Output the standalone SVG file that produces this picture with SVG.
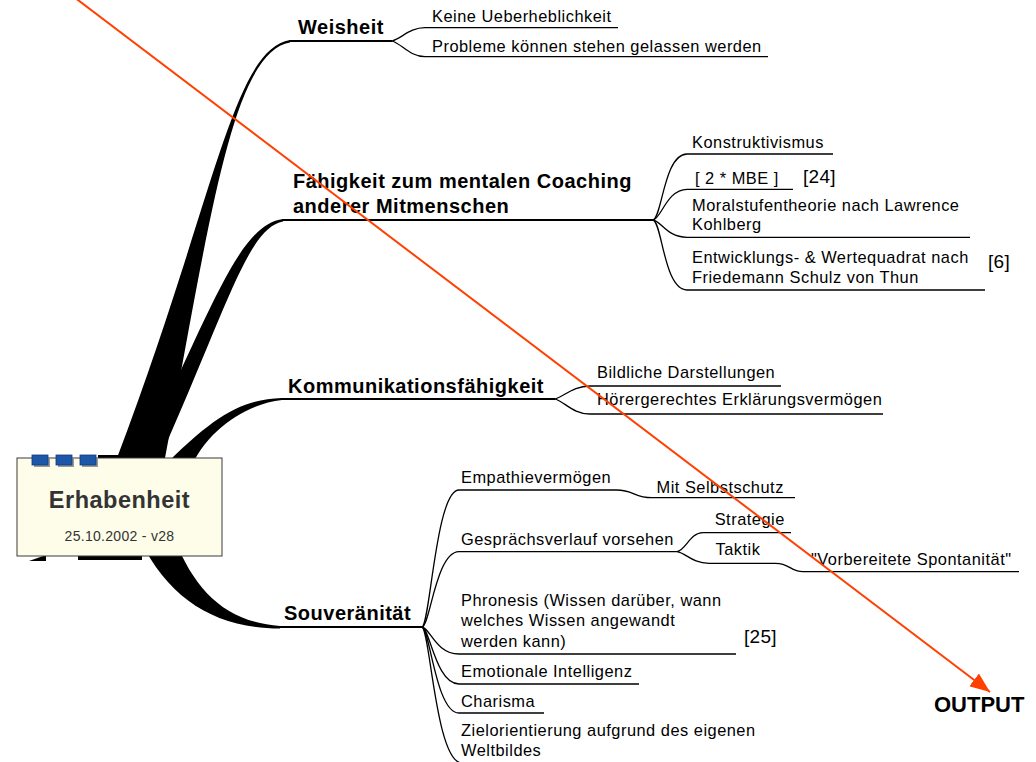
<svg xmlns="http://www.w3.org/2000/svg" width="1036" height="762" viewBox="0 0 1036 762">
<style>
text{font-family:"Liberation Sans",Arial,Helvetica,sans-serif;fill:#000}
.t{font-size:16.4px;letter-spacing:0.5px}
.b{font-size:20px;font-weight:bold;letter-spacing:0.5px}
.r{font-size:19px;letter-spacing:0.3px}
.br{fill:#000;stroke:none}
.m{fill:none;stroke:#000;stroke-width:2}
.s{fill:none;stroke:#000;stroke-width:1.3}
.tab{fill:#1F57A8;stroke:#0D3B80;stroke-width:0.8}
.tsh{fill:#9a9a9a}
</style>
<defs>
<marker id="ah" viewBox="0 0 20 16" refX="20" refY="8" markerWidth="20" markerHeight="16" markerUnits="userSpaceOnUse" orient="auto">
<path d="M0,0 L20,8 L0,16 Z" fill="#FF4000"/>
</marker>
</defs>
<g id="connectors">
<path class="br" d="M117,458 C215,200 232,50 290,40 L290,42.5 C232,52 210,220 165,458 Z"/>
<path class="br" d="M140,458 C215,300 240,225 283,219 L283,221.5 C248,228 228,305 160,458 Z"/>
<path class="br" d="M160,470 C215,415 240,400 282,398 L282,400 C245,404 205,432 190,470 Z"/>
<path class="br" d="M175,540 C195,590 225,622 280,626 L280,628.5 C215,628 170,600 140,540 Z"/>
<rect class="br" x="98" y="455" width="20" height="4"/>
<rect class="br" x="78" y="555" width="64" height="5"/>
<path class="br" d="M29,561 L46,555 L46,561 Z"/>
<path class="m" d="M289,41 H392"/>
<path class="m" d="M282,220 H653"/>
<path class="m" d="M281,399 H555"/>
<path class="m" d="M278,627 H422"/>
<path class="s" d="M392,41 C402,38 410,27.7 425,27.7 H618"/>
<path class="s" d="M392,41 C402,44 410,56.7 425,56.7 H768"/>
<path class="s" d="M653,220 C662,218 664,154 687,154 H833"/>
<path class="s" d="M653,220 C661,219 667,189.3 687,189.3 H793"/>
<path class="s" d="M653,220 C661,221 667,237.3 687,237.3 H970"/>
<path class="s" d="M653,220 C662,222 664,290 687,290 H985"/>
<path class="s" d="M555,399 C565,396 573,386 590,386 H781"/>
<path class="s" d="M555,399 C565,402 573,414 590,414 H883"/>
<path class="s" d="M422,627 C430,625 436,490 459,490 H616.5 C634,490 634,497.7 652,497.7 H795"/>
<path class="s" d="M422,627 C430,626 436,551.7 459,551.7 H677"/>
<path class="s" d="M677,551.7 C686,550 690,532.7 703,532.7 H791"/>
<path class="s" d="M677,551.7 C686,553 692,563.3 709,563.3 H775.6 C790,563.3 790,571.7 803,571.7 H1019"/>
<path class="s" d="M422,627 C430,628 436,654 459,654 H736"/>
<path class="s" d="M422,627 C430,629 436,684 459,684 H639"/>
<path class="s" d="M422,627 C430,629 436,713 459,713 H544"/>
<path class="s" d="M422,627 C430,630 436,763 462,763"/>
</g>
<g id="center">
<rect x="17" y="458" width="205" height="98" fill="#FDFDEA" stroke="#3a3a3a" stroke-width="1"/>
<rect class="tsh" x="34" y="457" width="16" height="10"/>
<rect class="tsh" x="58" y="457" width="16" height="10"/>
<rect class="tsh" x="82" y="457" width="16" height="10"/>
<rect class="tab" x="32" y="455" width="16" height="10"/>
<rect class="tab" x="56" y="455" width="16" height="10"/>
<rect class="tab" x="80" y="455" width="16" height="10"/>
<text x="119.5" y="508" text-anchor="middle" style="font-size:23.5px;font-weight:bold;letter-spacing:0.5px;fill:#333">Erhabenheit</text>
<text x="119.5" y="540.5" text-anchor="middle" style="font-size:14px;letter-spacing:0.3px;fill:#333">25.10.2002 - v28</text>
</g>
<g id="weisheit"><text class="b" x="298" y="34">Weisheit</text></g>
<g id="keine"><text class="t" x="432" y="21.7">Keine Ueberheblichkeit</text></g>
<g id="probleme"><text class="t" x="432" y="51.7">Probleme können stehen gelassen werden</text></g>
<g id="faehigkeit"><text class="b" x="293" y="187.7">Fähigkeit zum mentalen Coaching</text><text class="b" x="293" y="213.3">anderer Mitmenschen</text></g>
<g id="konstruktivismus"><text class="t" x="692" y="148.3">Konstruktivismus</text></g>
<g id="mbe"><text class="t" x="695" y="184">[ 2 * MBE ]</text><text class="r" x="803" y="183">[24]</text></g>
<g id="moral"><text class="t" x="692" y="210.7">Moralstufentheorie nach Lawrence</text><text class="t" x="692" y="230">Kohlberg</text></g>
<g id="entwicklung"><text class="t" x="692" y="263.3">Entwicklungs- &amp; Wertequadrat nach</text><text class="t" x="692" y="283.3">Friedemann Schulz von Thun</text><text class="r" x="988" y="268.3">[6]</text></g>
<g id="kommunikation"><text class="b" x="288" y="393">Kommunikationsfähigkeit</text></g>
<g id="bildliche"><text class="t" x="597" y="378">Bildliche Darstellungen</text></g>
<g id="hoerer"><text class="t" x="597" y="405">Hörergerechtes Erklärungsvermögen</text></g>
<g id="souveraenitaet"><text class="b" x="284" y="620">Souveränität</text></g>
<g id="empathie"><text class="t" x="461" y="483.3">Empathievermögen</text></g>
<g id="selbstschutz"><text class="t" x="656.5" y="492.7">Mit Selbstschutz</text></g>
<g id="gespraech"><text class="t" x="461" y="545">Gesprächsverlauf vorsehen</text></g>
<g id="strategie"><text class="t" x="714.7" y="525">Strategie</text></g>
<g id="taktik"><text class="t" x="715.5" y="555">Taktik</text></g>
<g id="spontan"><text class="t" x="811" y="565">"Vorbereitete Spontanität"</text></g>
<g id="phronesis"><text class="t" x="461" y="606">Phronesis (Wissen darüber, wann</text><text class="t" x="461" y="626">welches Wissen angewandt</text><text class="t" x="461" y="646.7">werden kann)</text><text class="r" x="744" y="643">[25]</text></g>
<g id="emotionale"><text class="t" x="461" y="677">Emotionale Intelligenz</text></g>
<g id="charisma"><text class="t" x="461" y="706.7">Charisma</text></g>
<g id="ziel"><text class="t" x="461" y="735.7">Zielorientierung aufgrund des eigenen</text><text class="t" x="461" y="756">Weltbildes</text></g>
<g id="annotation">
<line x1="72" y1="-4.5" x2="990" y2="692" stroke="#FF4000" stroke-width="2" marker-end="url(#ah)"/>
<text x="934" y="712" style="font-size:22px;font-weight:bold">OUTPUT</text>
</g>
</svg>
